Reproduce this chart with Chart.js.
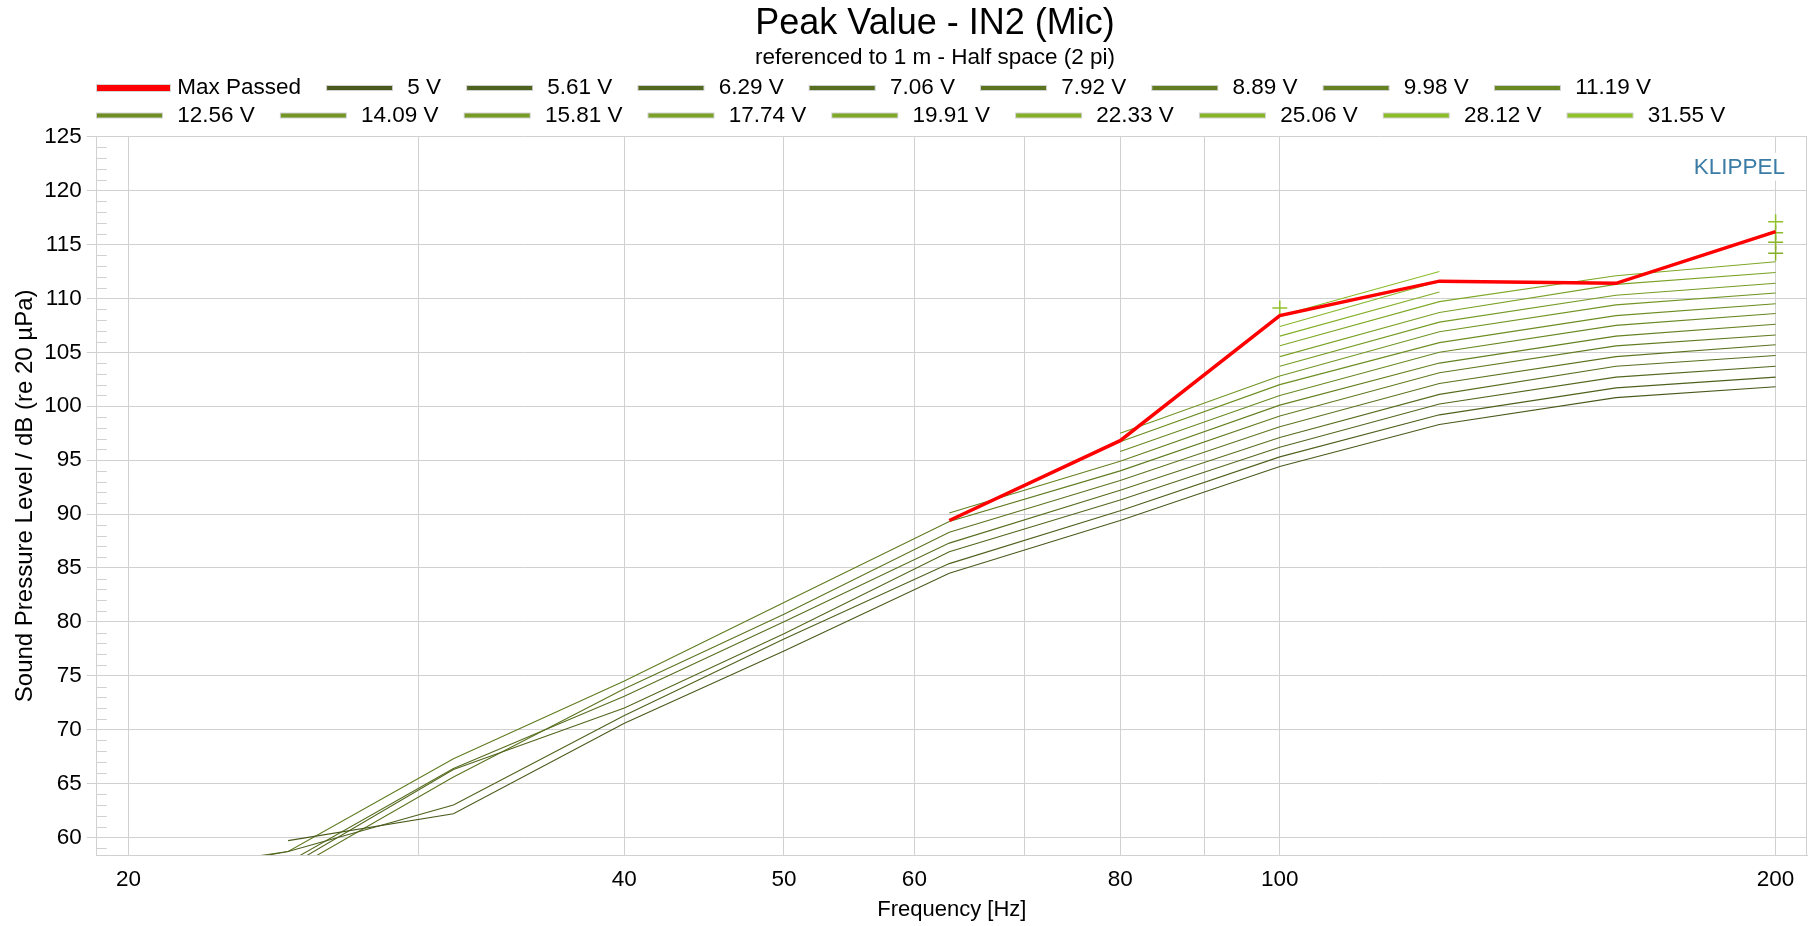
<!DOCTYPE html>
<html>
<head>
<meta charset="utf-8">
<script src="https://cdn.jsdelivr.net/npm/chart.js@4.4.1/dist/chart.umd.min.js"></script>
<style>
html,body{margin:0;padding:0;background:#fff;}
#wrap{width:1816px;height:926px;position:relative;}
</style>
</head>
<body>
<div id="wrap"><canvas id="c"></canvas></div>
<script>
// ---------- data ----------
const FREQS = [20, 25, 31.5, 40, 50, 63, 80, 100, 125, 160, 200];

const MAX_PASSED = [null, null, null, null, null, 89.4, 96.8, 108.4, 111.6, 111.4, 116.2];

const V_5_00  = [null, 59.7, 62.2, 70.6, 77.3, 84.5, 89.4, 94.4, 98.3, 100.8, 101.8];
const V_5_61  = [56.0, 58.7, 63.0, 71.3, 78.4, 85.4, 90.3, 95.3, 99.2, 101.7, 102.7];
const V_6_29  = [null, 57.3, 66.3, 72.0, 78.9, 86.5, 91.3, 96.2, 100.2, 102.7, 103.7];
const V_7_06  = [null, 57.7, 66.4, 73.1, 80.0, 87.3, 92.2, 97.1, 101.1, 103.7, 104.7];
const V_7_92  = [null, 56.8, 65.6, 73.8, 80.7, 88.3, 93.1, 98.1, 102.1, 104.6, 105.7];
const V_8_89  = [56.5, 58.7, 67.3, 74.5, 81.8, 89.3, 94.0, 99.1, 103.1, 105.6, 106.6];
const V_9_98  = [null, null, null, null, null, 90.1, 94.9, 100.1, 104.0, 106.5, 107.6];
const V_11_19 = [null, null, null, null, null, null, 95.8, 101.0, 105.0, 107.5, 108.6];
const V_12_56 = [null, null, null, null, null, null, 96.7, 102.0, 105.9, 108.4, 109.5];
const V_14_09 = [null, null, null, null, null, null, 97.5, 102.8, 106.9, 109.4, 110.5];
const V_15_81 = [null, null, null, null, null, null, null, 103.7, 107.8, 110.3, 111.4];
const V_17_74 = [null, null, null, null, null, null, null, 104.6, 108.7, 111.3, 112.4];
const V_19_91 = [null, null, null, null, null, null, null, 105.6, 109.7, 112.1, 113.4];
const V_22_33 = [null, null, null, null, null, null, null, 106.5, 110.6, null, 114.2];
const V_25_06 = [null, null, null, null, null, null, null, 107.4, 111.6, null, 115.2];
const V_28_12 = [null, null, null, null, null, null, null, 108.4, 112.5, null, 116.1];
const V_31_55 = [null, null, null, null, null, null, null, 109.1, null, null, 117.1];

const SERIES_LABELS = ['5 V','5.61 V','6.29 V','7.06 V','7.92 V','8.89 V','9.98 V','11.19 V',
  '12.56 V','14.09 V','15.81 V','17.74 V','19.91 V','22.33 V','25.06 V','28.12 V','31.55 V'];
const SERIES_VALUES = [V_5_00, V_5_61, V_6_29, V_7_06, V_7_92, V_8_89, V_9_98, V_11_19,
  V_12_56, V_14_09, V_15_81, V_17_74, V_19_91, V_22_33, V_25_06, V_28_12, V_31_55];
const SERIES_COLORS = ['#4a5a1c','#4e611d','#53671e','#576e1f','#5c7420','#607b20','#658121','#698822',
  '#6e8e23','#729524','#769b25','#7ba226','#7fa827','#84af27','#88b528','#8dbc29','#91c22a'];

const X_TICKS = [20, 30, 40, 50, 60, 70, 80, 90, 100, 200];
const X_TICK_LABELS = {20:'20', 40:'40', 50:'50', 60:'60', 80:'80', 100:'100', 200:'200'};
const Y_TICKS = [60, 65, 70, 75, 80, 85, 90, 95, 100, 105, 110, 115, 120, 125];

const TITLE = 'Peak Value - IN2 (Mic)';
const SUBTITLE = 'referenced to 1 m - Half space (2 pi)';

// ---------- styling ----------
const FONT = "'Liberation Sans', Arial, Helvetica, sans-serif";
const GRID = '#d0d0d0';

function toPoints(vals) { return FREQS.map((f, i) => ({x: f, y: vals[i]})); }

function isolatedRadius(ctx) {
  const d = ctx.dataset.data, i = ctx.dataIndex;
  if (!d[i] || d[i].y == null) return 0;
  const prev = i > 0 ? d[i - 1].y : null;
  const next = i < d.length - 1 ? d[i + 1].y : null;
  return (prev == null && next == null) ? 7.5 : 0;
}

function makeSwatch(color, isMain) {
  const c = document.createElement('canvas');
  const g = c.getContext('2d');
  if (isMain) {
    c.width = 100; c.height = 10;
    g.fillStyle = '#d6d6d6'; g.fillRect(25, 1, 75, 8);
    g.fillStyle = color; g.fillRect(26, 2, 73, 6);
  } else {
    c.width = 90; c.height = 10;
    g.fillStyle = '#d0d0d0'; g.fillRect(20, 2, 67, 6);
    g.fillStyle = color; g.fillRect(21, 3, 65, 4);
  }
  return c;
}

const datasets = [{
  label: 'Max Passed',
  data: toPoints(MAX_PASSED),
  borderColor: '#ff0000',
  backgroundColor: '#ff0000',
  borderWidth: 3.5,
  pointRadius: 0,
  pointHoverRadius: 0,
  spanGaps: false,
  tension: 0
}];
SERIES_VALUES.forEach((vals, k) => {
  datasets.push({
    label: SERIES_LABELS[k],
    data: toPoints(vals),
    borderColor: SERIES_COLORS[k],
    backgroundColor: SERIES_COLORS[k],
    borderWidth: 1.1,
    pointStyle: 'cross',
    pointRadius: isolatedRadius,
    pointHoverRadius: 0,
    pointBorderColor: SERIES_COLORS[k],
    pointBorderWidth: 1.5,
    spanGaps: false,
    tension: 0
  });
});

const boxShift = {
  id: 'boxShift',
  beforeLayout(chart) {
    const lg = chart.legend;
    if (lg && !lg._patched) {
      const origFit = lg.fit;
      lg.fit = function () { this.maxWidth = Math.min(this.maxWidth, 1660); origFit.call(this); };
      lg._patched = true;
    }
  },
  afterLayout(chart) {
    const lg = chart.legend;
    lg.left = 71;
    lg.right = 1800;
    lg.width = lg.right - lg.left;
    chart.boxes.forEach(b => {
      if (b && b.options && (b.options.text === TITLE || b.options.text === SUBTITLE)) {
        b.left = 54; b.right = 1816; b.width = b.right - b.left;
      }
    });
  }
};

const decorations = {
  id: 'decorations',
  beforeDatasetsDraw(chart) {
    const {ctx, chartArea: a, scales: {y}} = chart;
    ctx.save();
    ctx.strokeStyle = GRID;
    ctx.lineWidth = 1;
    ctx.beginPath();
    for (let v = 59; v < 125; v++) {
      if (v % 5 === 0) continue;
      const py = Math.round(y.getPixelForValue(v)) + 0.5;
      ctx.moveTo(a.left, py);
      ctx.lineTo(a.left + 10, py);
    }
    ctx.stroke();
    ctx.beginPath();
    ctx.moveTo(Math.round(a.right) - 0.5, a.top);
    ctx.lineTo(Math.round(a.right) - 0.5, a.bottom);
    ctx.stroke();
    ctx.fillStyle = '#ffffff';
    ctx.fillRect(a.right - 122, a.top + 16, 104, 28);
    ctx.font = "22.5px " + FONT;
    ctx.fillStyle = '#3b7ca6';
    ctx.textAlign = 'right';
    ctx.textBaseline = 'alphabetic';
    ctx.fillText('KLIPPEL', a.right - 22, a.top + 37.5);
    ctx.restore();
  }
};

new Chart(document.getElementById('c'), {
  type: 'line',
  data: {datasets},
  plugins: [boxShift, decorations],
  options: {
    responsive: true,
    maintainAspectRatio: false,
    animation: false,
    events: [],
    layout: {padding: {left: 0, right: 3, top: 0, bottom: 0}},
    plugins: {
      title: {
        display: true,
        text: TITLE,
        color: '#000',
        font: {family: FONT, size: 36, weight: 'normal', lineHeight: 1.2},
        padding: {top: 2, bottom: 0}
      },
      subtitle: {
        display: true,
        text: SUBTITLE,
        color: '#000',
        font: {family: FONT, size: 22.5, weight: 'normal', lineHeight: 1.1},
        padding: {top: 0, bottom: 1.75}
      },
      legend: {
        display: true,
        position: 'top',
        align: 'start',
        labels: {
          usePointStyle: true,
          pointStyleWidth: 90,
          color: '#000',
          font: {family: FONT, size: 22.5},
          padding: 5,
          generateLabels(chart) {
            return chart.data.datasets.map((ds, i) => ({
              text: ds.label,
              pointStyle: makeSwatch(ds.borderColor, i === 0),
              fillStyle: ds.borderColor,
              strokeStyle: ds.borderColor,
              lineWidth: 0,
              fontColor: '#000',
              hidden: false,
              datasetIndex: i,
              rotation: 0
            }));
          }
        }
      },
      tooltip: {enabled: false}
    },
    scales: {
      x: {
        type: 'logarithmic',
        min: 19.13,
        max: 208.97,
        bounds: 'data',
        afterBuildTicks(s) { s.ticks = X_TICKS.map(v => ({value: v})); },
        afterFit(s) { s.height = 71; },
        ticks: {
          autoSkip: false,
          maxRotation: 0,
          minRotation: 0,
          padding: 11,
          color: '#000',
          font: {family: FONT, size: 22.5},
          callback: (v) => X_TICK_LABELS[v] !== undefined ? X_TICK_LABELS[v] : ''
        },
        grid: {color: GRID, lineWidth: 1, drawTicks: false},
        border: {display: true, color: GRID, width: 1},
        title: {
          display: true,
          text: 'Frequency [Hz]',
          color: '#000',
          font: {family: FONT, size: 22},
          padding: {top: 0, bottom: 3}
        }
      },
      y: {
        type: 'linear',
        min: 58.37,
        max: 125,
        bounds: 'data',
        afterBuildTicks(s) { s.ticks = Y_TICKS.map(v => ({value: v})); },
        afterFit(s) { s.width = 96.7; },
        ticks: {
          padding: 5,
          color: '#000',
          font: {family: FONT, size: 22.5}
        },
        grid: {color: GRID, lineWidth: 1, drawTicks: true, tickLength: 10, tickColor: GRID},
        border: {display: true, color: GRID, width: 1},
        title: {
          display: true,
          text: 'Sound Pressure Level / dB (re 20 µPa)',
          color: '#000',
          font: {family: FONT, size: 24},
          padding: {top: 11, bottom: 0}
        }
      }
    }
  }
});
</script>
</body>
</html>
